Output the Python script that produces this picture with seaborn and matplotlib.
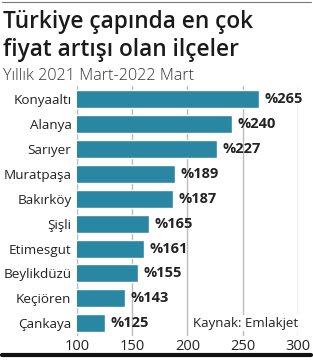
import matplotlib
matplotlib.use("Agg")
import matplotlib.pyplot as plt
import seaborn as sns
import pandas as pd
from matplotlib.lines import Line2D

districts = ["Konyaaltı", "Alanya", "Sarıyer", "Muratpaşa", "Bakırköy",
             "Şişli", "Etimesgut", "Beylikdüzü", "Keçiören", "Çankaya"]
values = [265, 240, 227, 189, 187, 165, 161, 155, 143, 125]
xticks = [100, 150, 200, 250, 300]

df = pd.DataFrame({"district": districts, "value": values})

sns.set_theme(style="white")
plt.rcParams['font.family'] = ['Open Sans', 'DejaVu Sans']

fig = plt.figure(figsize=(3.13, 3.62), dpi=100)
ax = fig.add_axes([0.246, 0.072, 0.706, 0.69])

sns.barplot(data=df, x="value", y="district", color="#2a87a4", width=0.72,
            saturation=1, ax=ax, zorder=3)

ax.set_xlim(100, 300)
ax.set_xticks(xticks)
ax.set_xticklabels([str(t) for t in xticks], fontsize=10.5, color="#222222")
ax.tick_params(axis="y", labelsize=9.7, colors="#222222", length=0, pad=4)
ax.tick_params(axis="x", length=0, pad=2)
ax.set_xlabel("")
ax.set_ylabel("")
ax.grid(axis="x", color="#bbbbbb", linewidth=1, zorder=0)
for s in ax.spines.values():
    s.set_visible(False)

for i, v in enumerate(values):
    ax.text(v + 5, i, f"%{v}", va="center", ha="left", fontsize=10.5,
            fontweight="bold", color="#222222", zorder=4)

ax.text(300, 9, "Kaynak: Emlakjet", ha="right", va="center", fontsize=9.5,
        color="#222222", zorder=4,
        bbox=dict(facecolor="white", edgecolor="none", pad=1))

fig.text(0.008, 0.9227, "Türkiye çapında en çok", fontsize=16.3, fontweight="semibold",
         color="#1a1a1a", va="baseline")
fig.text(0.008, 0.845, "fiyat artışı olan ilçeler", fontsize=16.3, fontweight="semibold",
         color="#1a1a1a", va="baseline")
fig.text(0.008, 0.779, "Yıllık 2021 Mart-2022 Mart", fontsize=11.6, fontweight="light",
         color="#333333", va="baseline")

fig.add_artist(Line2D([0.005, 0.995], [0.994, 0.994], color="#777777", linewidth=0.8,
                      transform=fig.transFigure))
fig.add_artist(Line2D([0.005, 0.995], [0.018, 0.018], color="#111111", linewidth=3,
                      transform=fig.transFigure))

fig.savefig("out.png", dpi=100)
